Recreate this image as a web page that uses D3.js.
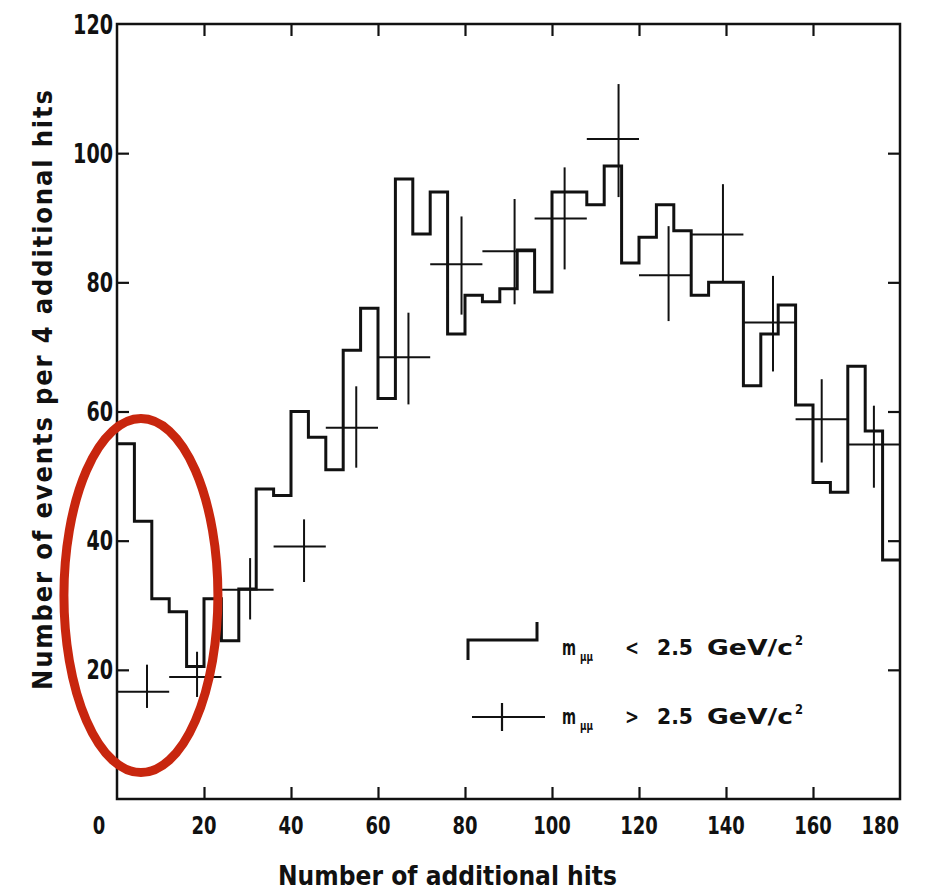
<!DOCTYPE html>
<html>
<head>
<meta charset="utf-8">
<script src="https://cdn.jsdelivr.net/npm/d3@7"></script>
<style>
  html, body { margin: 0; padding: 0; background: #fff; }
  svg { display: block; }
  text { font-family: "Liberation Sans Narrow", "DejaVu Sans Condensed", "Liberation Sans", sans-serif; font-weight: bold; fill: #111; }
</style>
</head>
<body>
<svg id="chart" width="927" height="890"></svg>
<script>
// ---- data ----
// histogram, m_mumu < 2.5 GeV/c^2 : bins of 4 additional hits, starting at binStarts[i]
const binStarts = d3.range(0, 180, 4);
const lowMassCounts = [55, 43, 31, 29, 20.5, 31, 24.5, 32.5, 48, 47,
                       60, 56, 51, 69.5, 76, 62, 96, 87.5, 94, 72,
                       78, 77, 79, 85, 78.5, 94, 94, 92, 98, 83,
                       87, 92, 88, 78, 80, 80, 64, 72, 76.5, 61,
                       49, 47.5, 67, 57, 37];
// crosses, m_mumu > 2.5 GeV/c^2 : 12-hit bins
const crossBinLo = [0, 12, 24, 36, 48, 60, 72, 84, 96, 108, 120, 132, 144, 156, 168];
const crossBinHi = [12, 24, 36, 48, 60, 72, 84, 96, 108, 120, 132, 144, 156, 168, 180];
const crossX     = [6.9, 18.4, 30.6, 43, 55, 67, 79.2, 91.4, 102.9, 115.3, 126.8, 139.3, 150.8, 162, 174];
const highMass   = [16.6, 18.9, 32.4, 39.1, 57.5, 68.4, 82.8, 84.8, 89.9, 102.2, 81.1, 87.4, 73.8, 58.8, 54.9];
const errLow     = [14.1, 15.8, 27.8, 33.6, 51.3, 61.1, 75, 76.6, 82, 93.2, 74, 80.2, 66.2, 52.1, 48.2];
const errHigh    = [20.8, 22.8, 37.3, 43.3, 63.9, 75.3, 90.2, 92.9, 97.8, 110.7, 88.7, 95.2, 81, 65, 60.9];
const xTicks = [0, 20, 40, 60, 80, 100, 120, 140, 160, 180];
const yTicks = [20, 40, 60, 80, 100, 120];
const xTitle = "Number of additional hits";
const yTitle = "Number of events per 4 additional hits";

// ---- layout ----
const svg = d3.select("#chart");
const x = d3.scaleLinear().domain([0, 180]).range([117, 900]);
const y = d3.scaleLinear().domain([0, 120]).range([799, 24]);
const ink = "#111";

// frame
svg.append("rect")
  .attr("x", x(0)).attr("y", y(120))
  .attr("width", x(180) - x(0)).attr("height", y(0) - y(120))
  .attr("fill", "none").attr("stroke", ink).attr("stroke-width", 2.5);

// inward ticks via d3 axes
const tickLen = 12;
svg.append("g").attr("transform", `translate(0,${y(0)})`)
  .call(d3.axisTop(x).tickValues(xTicks.slice(1, -1)).tickSize(tickLen).tickFormat(""))
  .call(g => g.select(".domain").remove());
svg.append("g").attr("transform", `translate(0,${y(120)})`)
  .call(d3.axisBottom(x).tickValues(xTicks.slice(1, -1)).tickSize(tickLen).tickFormat(""))
  .call(g => g.select(".domain").remove());
svg.append("g").attr("transform", `translate(${x(0)},0)`)
  .call(d3.axisRight(y).tickValues(yTicks.slice(0, -1)).tickSize(tickLen).tickFormat(""))
  .call(g => g.select(".domain").remove());
svg.append("g").attr("transform", `translate(${x(180)},0)`)
  .call(d3.axisLeft(y).tickValues(yTicks.slice(0, -1)).tickSize(tickLen).tickFormat(""))
  .call(g => g.select(".domain").remove());
svg.selectAll(".tick line").attr("stroke", ink).attr("stroke-width", 2.2);

// tick labels (narrow glyphs)
const xLab = svg.append("g").selectAll("text").data(xTicks).join("text")
  .attr("y", 834)
  .attr("font-size", 24)
  .attr("textLength", d => String(d).length * 12.5).attr("lengthAdjust", "spacingAndGlyphs")
  .text(d => d);
xLab.attr("x", (d, i) => i === 0 ? x(d) - 18 : (i === xTicks.length - 1 ? x(d) - 1 : x(d)))
    .attr("text-anchor", (d, i) => i === 0 ? "middle" : (i === xTicks.length - 1 ? "end" : "middle"));
svg.append("g").selectAll("text").data(yTicks).join("text")
  .attr("x", 113).attr("y", d => y(d) + 9.5)
  .attr("text-anchor", "end").attr("font-size", 27)
  .attr("textLength", d => String(d).length * 13.3).attr("lengthAdjust", "spacingAndGlyphs")
  .text(d => d);

// axis titles
svg.append("text")
  .attr("x", 278).attr("y", 885)
  .attr("font-size", 27)
  .attr("textLength", 339).attr("lengthAdjust", "spacingAndGlyphs")
  .text(xTitle);
svg.append("text")
  .attr("transform", "translate(52,690) rotate(-90)")
  .attr("font-size", 27)
  .attr("textLength", 600).attr("lengthAdjust", "spacing")
  .text(yTitle);

// histogram (m < 2.5)
const histPts = binStarts.map((b, i) => [b, lowMassCounts[i]]);
histPts.push([180, lowMassCounts[lowMassCounts.length - 1]]);
const stepLine = d3.line().x(d => x(d[0])).y(d => y(d[1])).curve(d3.curveStepAfter);
svg.append("path")
  .attr("d", stepLine(histPts))
  .attr("fill", "none").attr("stroke", ink).attr("stroke-width", 3)
  .attr("stroke-linejoin", "miter");

// crosses (m > 2.5)
const crosses = svg.append("g").attr("stroke", ink).attr("stroke-width", 2);
crosses.selectAll("line.h").data(highMass).join("line").attr("class", "h")
  .attr("x1", (d, i) => x(crossBinLo[i])).attr("x2", (d, i) => x(crossBinHi[i]))
  .attr("y1", d => y(d)).attr("y2", d => y(d));
crosses.selectAll("line.v").data(highMass).join("line").attr("class", "v")
  .attr("x1", (d, i) => x(crossX[i])).attr("x2", (d, i) => x(crossX[i]))
  .attr("y1", (d, i) => y(errLow[i])).attr("y2", (d, i) => y(errHigh[i]));

// legend
const leg = svg.append("g");
leg.append("path").attr("d", "M468,660 V640 H537 V622")
  .attr("fill", "none").attr("stroke", ink).attr("stroke-width", 3);
leg.append("line").attr("x1", 472).attr("x2", 545).attr("y1", 717).attr("y2", 717)
  .attr("stroke", ink).attr("stroke-width", 2.2);
leg.append("line").attr("x1", 502).attr("x2", 502).attr("y1", 703).attr("y2", 731)
  .attr("stroke", ink).attr("stroke-width", 2.2);
function piece(px, py, size, w, str) {
  leg.append("text").attr("x", px).attr("y", py).attr("font-size", size)
    .attr("textLength", w).attr("lengthAdjust", "spacingAndGlyphs").text(str);
}
function legendText(baseline, sym) {
  piece(562, baseline, 21, 14, "m");
  piece(580, baseline + 6, 13, 13, "μμ");
  piece(625, baseline, 21, 14, sym);
  piece(657, baseline, 22, 36, "2.5");
  piece(707, baseline, 22, 86, "GeV/c");
  piece(795, baseline - 10, 14, 8, "2");
}
legendText(655, "<");
legendText(724, ">");

// red annotation ellipse
svg.append("ellipse")
  .attr("cx", x(5.5)).attr("cy", y(31.5))
  .attr("rx", 77).attr("ry", 177)
  .attr("fill", "none").attr("stroke", "#c8260e").attr("stroke-width", 9);
</script>
</body>
</html>
